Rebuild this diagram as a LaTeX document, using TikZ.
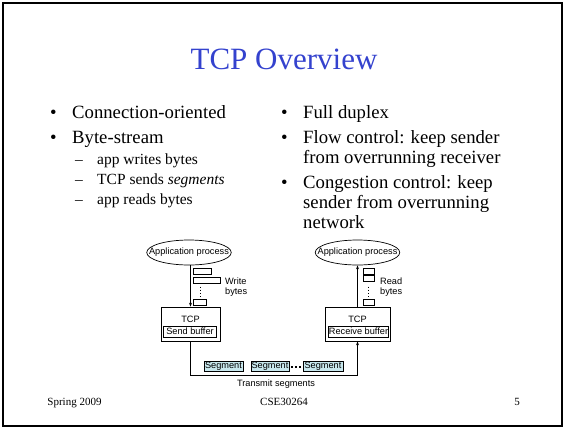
\documentclass[tikz,border=0pt]{standalone}
\usepackage{fontspec}
\setmainfont{Liberation Serif}
\newfontfamily\diagfont{Liberation Sans}
\usetikzlibrary{arrows.meta,calc,shapes.geometric}
\definecolor{titleblue}{RGB}{52,66,206}
\definecolor{segfill}{RGB}{200,232,238}
\tikzset{
  slidetext/.style={anchor=base west, inner sep=0pt, font=\fontsize{18.7}{20}\selectfont},
  subtext/.style={anchor=base west, inner sep=0pt, font=\fontsize{15.5}{17}\selectfont},
  foot/.style={anchor=base, inner sep=0pt, font=\fontsize{11}{12}\selectfont},
  small/.style={font=\diagfont\fontsize{9.2}{10}\selectfont},
  proc/.style={ellipse, draw, line width=0.7pt, minimum width=80pt, minimum height=25pt, inner xsep=-10pt, inner ysep=2pt, small},
  tcpbox/.style={draw, line width=0.7pt, inner sep=0pt},
  bufbox/.style={draw, line width=0.9pt, inner sep=0pt, minimum height=11pt, small},
  bytebox/.style={draw, line width=0.6pt, inner sep=0pt, minimum height=6pt},
  segbox/.style={draw, line width=0.9pt, fill=segfill, inner sep=0pt, minimum height=9.5pt, small},
  flow/.style={line width=0.7pt, -{Stealth[length=4pt,width=3pt]}},
  bytedots/.style={line width=0.6pt, dash pattern=on 1pt off 2.2pt},
}
\begin{document}
\begin{tikzpicture}[x=1pt,y=-1pt]
\useasboundingbox (0,0) rectangle (565,429);
% slide frame
\draw[line width=2pt] (3,3) rectangle (562,426);

% title
\node[anchor=base, inner sep=0pt, text=titleblue, font=\fontsize{31}{34}\selectfont] (title) at (284,69) {TCP Overview};

% left column
\node[slidetext] (b1) at (50,118) {•};
\node[slidetext] (t1) at (72,118) {Connection-oriented};
\node[slidetext] (b2) at (50,143) {•};
\node[slidetext] (t2) at (72,143) {Byte-stream};
\node[subtext] (d1) at (75,164) {–};
\node[subtext] (s1) at (97,164) {app writes bytes};
\node[subtext] (d2) at (75,184) {–};
\node[subtext] (s2) at (97,184) {TCP sends \textit{segments}};
\node[subtext] (d3) at (75,204) {–};
\node[subtext] (s3) at (97,204) {app reads bytes};

% right column
\node[slidetext] (b3) at (281,118) {•};
\node[slidetext] (t3) at (303,118) {Full duplex};
\node[slidetext] (b4) at (281,143) {•};
\node[slidetext] (t4) at (303,143) {Flow control: keep sender};
\node[slidetext] (t4b) at (303,163) {from overrunning receiver};
\node[slidetext] (b5) at (281,188) {•};
\node[slidetext] (t5) at (303,188) {Congestion control: keep};
\node[slidetext] (t5b) at (303,208) {sender from overrunning};
\node[slidetext] (t5c) at (303,228) {network};

% sender side
\node[proc] (lapp) at (189,252.5) {Application process};
\node[tcpbox, minimum width=59pt, minimum height=34pt] (lsend) at (190.5,324) {};
\node[small, inner sep=0pt] (ltcp) at (190.5,319) {TCP};
\node[bufbox, minimum width=53pt] (lbuf) at (190,331.5) {Send buffer};
\draw[flow] (lapp.south -| lsend.north) -- (lsend.north);

\node[bytebox, minimum width=18pt] (lb1) at (202,271) {};
\node[bytebox, minimum width=27pt] (lb2) at (206.5,280) {};
\node[bytebox, minimum width=13pt] (lb3) at (199.5,302) {};
\draw[bytedots] (200,286.5) -- (200,297);
\node[small, anchor=west, align=left, inner sep=0pt] (wlab) at (225,287) {Write\\bytes};

% receiver side
\node[proc] (rapp) at (357.5,252.5) {Application process};
\node[tcpbox, minimum width=65pt, minimum height=34pt] (rsend) at (357.5,324) {};
\node[small, inner sep=0pt] (rtcp) at (357.5,319) {TCP};
\node[bufbox, minimum width=59pt] (rbuf) at (358.5,331.5) {Receive buffer};
\draw[flow] (rsend.north) -- (rapp.south -| rsend.north);

\node[bytebox, minimum width=11pt] (rb1) at (368.5,271) {};
\node[bytebox, minimum width=11pt] (rb2) at (368.5,278) {};
\node[bytebox, minimum width=11pt] (rb3) at (368.5,302) {};
\draw[bytedots] (368,286.5) -- (368,297);
\node[small, anchor=west, align=left, inner sep=0pt] (rlab) at (380,287) {Read\\bytes};

% transmission path
\coordinate (bottom) at (190,375.5);
\draw[flow] (lsend.south) -- (lsend.south |- bottom) -| (rsend.south);
\node[segbox, minimum width=39pt] (seg1) at (223.5,366.5) {Segment};
\node[segbox, minimum width=38pt] (seg2) at (270,366.5) {Segment};
\node[segbox, minimum width=40pt] (seg3) at (323,366.5) {Segment};
\draw[line width=2pt, dash pattern=on 2pt off 2.2pt] ([xshift=1.5pt]seg2.east) -- (seg3.west);
\node[small, inner sep=0pt] (tlab) at (276,384) {Transmit segments};

% footer
\node[foot] (f1) at (74.5,405) {Spring 2009};
\node[foot] (f2) at (284,405) {CSE30264};
\node[foot] (f3) at (517,405) {5};
\end{tikzpicture}
\end{document}
